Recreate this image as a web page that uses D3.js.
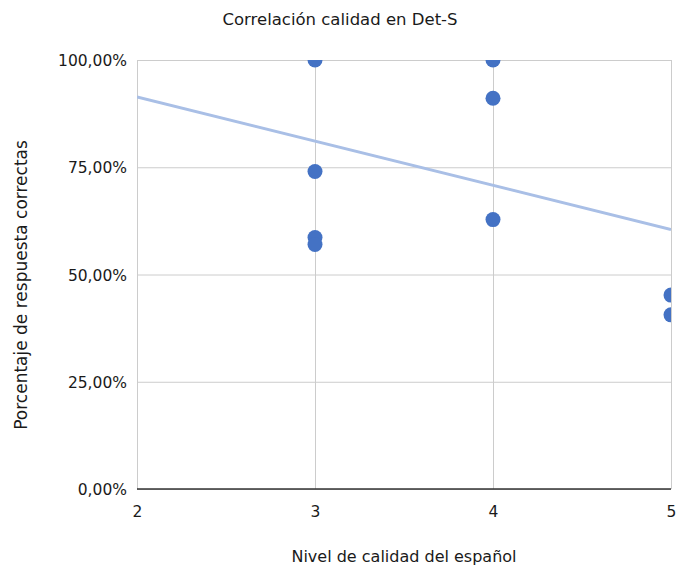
<!DOCTYPE html>
<html>
<head>
<meta charset="utf-8">
<script src="https://cdn.jsdelivr.net/npm/d3@7"></script>
<style>
  html, body { margin: 0; padding: 0; background: #fff; }
  svg { display: block; font-family: "DejaVu Sans", Verdana, sans-serif; }
</style>
</head>
<body>
<svg id="chart" width="676" height="569"></svg>
<script>
// Spanish proficiency level vs. share of correct answers
const levels   = [3, 3, 3, 3, 4, 4, 4, 5, 5];
const percents = [100, 74.0, 58.6, 57.0, 100, 91.1, 62.8, 45.2, 40.6];

// Linear trend endpoints (level, percent)
const trendX = [2, 5];
const trendY = [91.4, 60.5];

const xTicks = [2, 3, 4, 5];
const yTicks = [0, 25, 50, 75, 100];

const FONT = "'DejaVu Sans', Verdana, sans-serif";
const INK = "#1a1a1a";

const svg = d3.select("#chart");
const margin = { left: 137, right: 5, top: 60, bottom: 80 };
const W = 676, H = 569;

const x = d3.scaleLinear().domain([2, 5]).range([margin.left, W - margin.right]);
const y = d3.scaleLinear().domain([0, 100]).range([H - margin.bottom, margin.top]);

const fmt = v => v.toFixed(2).replace(".", ",") + "%";

// clip marks to the plot area
svg.append("clipPath").attr("id", "plot")
  .append("rect")
  .attr("x", x(2)).attr("y", y(100))
  .attr("width", x(5) - x(2)).attr("height", y(0) - y(100));

// horizontal gridlines + y tick labels
const yAxis = d3.axisLeft(y).tickValues(yTicks).tickFormat(fmt)
  .tickSize(-(x(5) - x(2))).tickPadding(10);
const gy = svg.append("g").attr("transform", `translate(${x(2)},0)`).call(yAxis)
  .attr("font-family", FONT).attr("font-size", 15.5);
gy.select(".domain").remove();
gy.selectAll(".tick line").attr("stroke", "#cccccc").attr("stroke-width", 1);
gy.selectAll(".tick text").attr("fill", INK).attr("dy", "0.36em");

// vertical gridlines + x tick labels
const xAxis = d3.axisBottom(x).tickValues(xTicks).tickFormat(d3.format("d"))
  .tickSize(-(y(0) - y(100)));
const gx = svg.append("g").attr("transform", `translate(0,${y(0)})`).call(xAxis)
  .attr("font-family", FONT).attr("font-size", 15.5);
gx.select(".domain").remove();
gx.selectAll(".tick line").attr("stroke", "#cccccc").attr("stroke-width", 1);
gx.selectAll(".tick text").attr("fill", INK).attr("y", 28).attr("dy", 0);

// baseline
svg.append("line")
  .attr("x1", x(2)).attr("x2", x(5))
  .attr("y1", y(0)).attr("y2", y(0))
  .attr("stroke", "#333").attr("stroke-width", 1.3);

const plot = svg.append("g").attr("clip-path", "url(#plot)");

// trendline
plot.append("line")
  .attr("x1", x(trendX[0])).attr("y1", y(trendY[0]))
  .attr("x2", x(trendX[1])).attr("y2", y(trendY[1]))
  .attr("stroke", "#a9bfe6").attr("stroke-width", 3);

// points
plot.selectAll("circle").data(levels.map((l, i) => [l, percents[i]]))
  .join("circle")
  .attr("cx", d => x(d[0])).attr("cy", d => y(d[1]))
  .attr("r", 7.5)
  .attr("fill", "#4472c4");

// titles
svg.append("text").attr("x", 340).attr("y", 25)
  .attr("text-anchor", "middle").attr("font-size", 16.5).attr("fill", INK)
  .text("Correlación calidad en Det-S");

svg.append("text").attr("x", (x(2) + x(5)) / 2).attr("y", 562)
  .attr("text-anchor", "middle").attr("font-size", 16).attr("fill", INK)
  .text("Nivel de calidad del español");

svg.append("text")
  .attr("transform", `translate(27,${285}) rotate(-90)`)
  .attr("text-anchor", "middle").attr("font-size", 17).attr("fill", INK)
  .text("Porcentaje de respuesta correctas");
</script>
</body>
</html>
